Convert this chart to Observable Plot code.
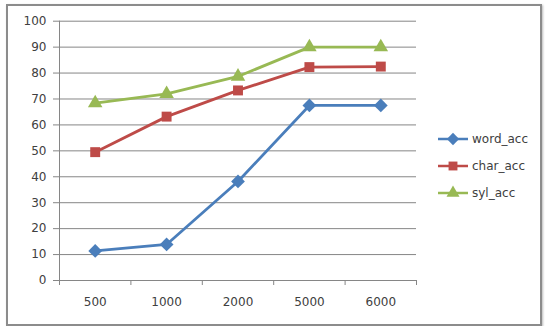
<!DOCTYPE html>
<html><head><meta charset="utf-8">
<script src="https://cdn.jsdelivr.net/npm/d3@7"></script>
<script src="https://cdn.jsdelivr.net/npm/@observablehq/plot@0.6"></script>
<style>
body{margin:0;background:#fff;}
#wrap{position:relative;width:549px;height:326px;font-family:"DejaVu Sans",sans-serif;}
#border{position:absolute;left:6px;top:4px;width:532px;height:318px;border:2px solid #8c8c8c;box-shadow:1px 1px 2px #bbb;pointer-events:none;}
#legend{position:absolute;left:436px;top:128px;}
</style></head>
<body><div id="wrap"><div id="border"></div><div id="legend"></div></div>
<script>
const categories = ["500","1000","2000","5000","6000"];
const wordAcc = [11.4, 13.9, 38.2, 67.5, 67.5];
const charAcc = [49.5, 63.2, 73.3, 82.3, 82.5];
const sylAcc  = [68.4, 72.0, 78.7, 90.0, 90.0];
const seriesNames = ["word_acc","char_acc","syl_acc"];
const seriesColors = ["#4a7ebb","#be4b48","#98b954"];
const seriesSymbols = ["diamond","square","triangle"];
const seriesR = [6.2, 5.6, 5.4];
const yTicks = d3.range(0, 101, 10);

const allSeries = [wordAcc, charAcc, sylAcc];
const data = [];
allSeries.forEach((vals, s) => vals.forEach((v, i) => data.push({s: seriesNames[s], i: i + 0.5, cat: categories[i], v})));

const symMap = {diamond: d3.symbolDiamond2 || d3.symbolDiamond, square: d3.symbolSquare, triangle: d3.symbolTriangle};
const chart = Plot.plot({
  width: 549, height: 326,
  marginLeft: 59, marginRight: 133, marginTop: 20.7, marginBottom: 46,
  style: {fontFamily: "DejaVu Sans, sans-serif", fontSize: "12px", color: "#404040", background: "transparent"},
  x: {type: "linear", domain: [0, categories.length], axis: null},
  y: {domain: [0, 100], axis: null},
  color: {domain: seriesNames, range: seriesColors},
  marks: [
    Plot.gridY(yTicks, {stroke: "#868686", strokeOpacity: 1, strokeWidth: 1}),
    Plot.axisY(yTicks, {tickSize: 6, tickPadding: 7, stroke: "#868686", fill: "#404040", label: null}),
    Plot.axisX(d3.range(0, categories.length + 1), {tickSize: 5, tickFormat: () => "", stroke: "#868686", label: null}),
    Plot.axisX(categories.map((c, i) => i + 0.5), {tickSize: 0, tickPadding: 17, tickFormat: (d) => categories[Math.floor(d)], fill: "#404040", label: null}),
    Plot.ruleX([0], {stroke: "#868686"}),
    Plot.ruleY([0], {stroke: "#868686"}),
    Plot.line(data, {x: "i", y: "v", z: "s", stroke: "s", strokeWidth: 2.8}),
    ...seriesNames.map((n, k) => Plot.dot(data.filter(d => d.s === n), {x: "i", y: "v", fill: seriesColors[k], symbol: symMap[seriesSymbols[k]], r: seriesR[k], stroke: "none"}))
  ]
});
document.getElementById("wrap").prepend(chart);

// legend
const lg = d3.select("#legend").append("svg").attr("width", 100).attr("height", 80)
  .style("font-family", "DejaVu Sans, sans-serif").style("font-size", "12px");
seriesNames.forEach((n, k) => {
  const g = lg.append("g").attr("transform", `translate(0,${11 + k * 27})`);
  g.append("line").attr("x1", 2).attr("x2", 32).attr("stroke", seriesColors[k]).attr("stroke-width", 2.5);
  g.append("path").attr("transform", "translate(17,0)").attr("d", d3.symbol(symMap[seriesSymbols[k]], Math.PI * seriesR[k] * seriesR[k] * 0.8)()).attr("fill", seriesColors[k]);
  g.append("text").attr("x", 36).attr("dy", "0.35em").attr("fill", "#404040").text(n);
});
</script>
</body></html>
